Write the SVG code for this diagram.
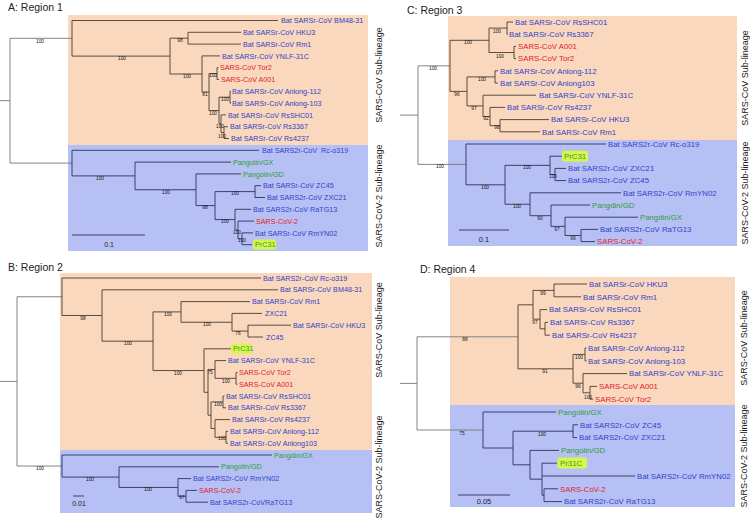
<svg xmlns="http://www.w3.org/2000/svg" width="750" height="523" viewBox="0 0 750 523">
<style>
text{font-family:"Liberation Sans",Arial,sans-serif}
.ttl{font-size:10.5px;fill:#222}
.s{font-size:7.2px}
.m{font-size:7.8px}
.b{fill:#3142c8}
.r{fill:#e3222a}
.g{fill:#2e9e36}
.k{fill:#222}
.bs{font-size:4.8px;fill:#111;text-anchor:middle}
.lab{font-size:9px;fill:#222;text-anchor:middle}
.orng{fill:#f9d8bd}
.blu{fill:#b7c0f4}
.hl{fill:#d8f54a}
.to{fill:none;stroke:#4a3d33;stroke-width:0.9}
.tb{fill:none;stroke:#2c3260;stroke-width:0.9}
.root{fill:none;stroke:#777;stroke-width:0.9}
.pre{white-space:pre}
</style>
<rect width="750" height="523" fill="#fff"/>

<g id="backgrounds">
<rect class="orng" x="68" y="15" width="300" height="130"/>
<rect class="blu" x="68" y="145" width="300" height="106"/>
<rect class="orng" x="60" y="273" width="312" height="177"/>
<rect class="blu" x="60" y="450" width="312" height="63"/>
<rect class="orng" x="448" y="16" width="289" height="124"/>
<rect class="blu" x="448" y="140" width="289" height="106"/>
<rect class="orng" x="450" y="277" width="285" height="128"/>
<rect class="blu" x="450" y="405" width="285" height="102"/>
</g>

<g id="titles">
<text class="ttl" x="8" y="11">A: Region 1</text>
<text class="ttl" x="8" y="271">B: Region 2</text>
<text class="ttl" x="407" y="14">C: Region 3</text>
<text class="ttl" x="420" y="273">D: Region 4</text>
</g>

<g id="side-labels">
<text class="lab" transform="translate(382,75) rotate(-90)">SARS-CoV Sub-lineage</text>
<text class="lab" transform="translate(382,196) rotate(-90)">SARS-CoV-2 Sub-lineage</text>
<text class="lab" transform="translate(382,330) rotate(-90)">SARS-CoV Sub-lineage</text>
<text class="lab" transform="translate(382,467) rotate(-90)">SARS-CoV-2 Sub-lineage</text>
<text class="lab" transform="translate(748,78) rotate(-90)">SARS-CoV Sub-lineage</text>
<text class="lab" transform="translate(748,193) rotate(-90)">SARS-CoV-2 Sub-lineage</text>
<text class="lab" transform="translate(747,338) rotate(-90)">SARS-CoV Sub-lineage</text>
<text class="lab" transform="translate(747,456) rotate(-90)">SARS-CoV-2 Sub-lineage</text>
</g>

<g id="connectors">
<path class="root" d="M0,100.7H10M10,38.3V163.1M10,38.3H72M10,163.1H72"/>
<path class="to" d="M72,20.5V56.1M72,20.5H278M72,56.1H170
M170,38.2V74M170,38.2H188M170,74H202
M188,32.3V44.1M188,32.3H241M188,44.1H241
M202,55.9V92M202,55.9H220M202,92H209
M209,73.6V110.5M209,73.6H217M209,110.5H219
M217,67.7V79.5M217,67.7H218.5M217,79.5H219
M219,97.2V123.75M219,97.2H230M219,123.75H221
M230,91.3V103.1M230,91.3H231M230,103.1H231
M221,114.9V132.6M221,114.9H226M221,132.6H224
M224,126.7V138.5M224,126.7H228M224,138.5H229"/>
<path class="tb" d="M72,150.3V175.9M72,150.3H259M72,175.9H135
M135,162.1V189.75M135,162.1H231M135,189.75H196
M196,173.9V205.6M196,173.9H241M196,205.6H215
M215,191.6V219.6M215,191.6H255M215,219.6H235
M255,185.7V197.5M255,185.7H261M255,197.5H265
M235,209.3V230M235,209.3H251M235,230H238
M238,221.1V238.8M238,221.1H254M238,238.8H242
M242,232.9V244.7M242,232.9H253M242,244.7H252
M72,235H145"/>

<path class="root" d="M0,381.4H17M17,296.75V466.05M17,296.75H62M17,466.05H62"/>
<path class="to" d="M62,278V315.5M62,278H261M62,315.5H102
M102,289.8V341.2M102,289.8H278M102,341.2H153
M153,311.9V370.55M153,311.9H181M153,370.55H204
M181,301.6V322.25M181,301.6H250M181,322.25H232
M232,313.4V331.1M232,313.4H262M232,331.1H248
M248,325.2V337M248,325.2H291M248,337H263
M204,348.8V392.3M204,348.8H231M204,392.3H208
M208,369.45V415.2M208,369.45H215M208,415.2H211
M215,360.6V378.3M215,360.6H226M215,378.3H236
M236,372.4V384.2M236,372.4H237.5M236,384.2H237.5
M211,401.9V428.45M211,401.9H223M211,428.45H215
M223,396V407.8M223,396H224.5M223,407.8H226
M215,419.6V437.3M215,419.6H230M215,437.3H226
M226,431.4V443.2M226,431.4H228M226,443.2H228"/>
<path class="tb" d="M62,455V477.1M62,455H272M62,477.1H119
M119,466.8V487.45M119,466.8H219M119,487.45H178
M178,478.6V496.3M178,478.6H191M178,496.3H186
M186,490.4V502.2M186,490.4H197M186,502.2H208
M73,496H84"/>

<path class="root" d="M400,115.1H418M418,65.85V164.4M418,65.85H450M418,164.4H466"/>
<path class="to" d="M450,40.3V91.4M450,40.3H489M450,91.4H467
M489,28.1V52.5M489,28.1H507M489,52.5H514
M507,22V34.2M507,22H513M507,34.2H508
M514,46.4V58.6M514,46.4H516M514,58.6H516
M467,76.9V105.9M467,76.9H495M467,105.9H483
M495,70.8V83M495,70.8H498M495,83H498
M483,95.2V116.55M483,95.2H536M483,116.55H490
M490,107.4V125.7M490,107.4H505M490,125.7H500
M500,119.6V131.8M500,119.6H549M500,131.8H540"/>
<path class="tb" d="M466,144V184.8M466,144H606M466,184.8H505
M505,165.35V204.25M505,165.35H550M505,204.25H530
M550,156.2V174.5M550,156.2H562M550,174.5H555
M555,168.4V180.6M555,168.4H566M555,180.6H566
M530,192.8V215.7M530,192.8H621M530,215.7H551
M551,205V226.35M551,205H590M551,226.35H565
M565,217.2V235.5M565,217.2H638M565,235.5H581
M581,229.4V241.6M581,229.4H598M581,241.6H595
M459,230H509"/>

<path class="root" d="M400,383.4H417M417,336.8V430M417,336.8H518M417,430H483"/>
<path class="to" d="M518,304.8V368.8M518,304.8H533M518,368.8H573
M533,290.4V319.2M533,290.4H554M533,319.2H540
M554,284V296.8M554,284H587M554,296.8H581
M540,309.6V328.8M540,309.6H547M540,328.8H545
M545,322.4V335.2M545,322.4H548M545,335.2H550
M573,354.4V383.2M573,354.4H585M573,383.2H583
M585,348V360.8M585,348H586.5M585,360.8H586.5
M583,373.6V392.8M583,373.6H627M583,392.8H590
M590,386.4V399.2M590,386.4H597M590,399.2H593"/>
<path class="tb" d="M483,412V448M483,412H556M483,448H513
M513,431.2V464.8M513,431.2H573M513,464.8H530
M573,424.8V437.6M573,424.8H578M573,437.6H577
M530,450.4V479.2M530,450.4H559M530,479.2H542
M542,463.2V495.2M542,463.2H557M542,476H635M542,495.2H544
M544,488.8V501.6M544,488.8H558M544,501.6H562
M458,495H510"/>
</g>

<g id="scales">
<text class="k" style="font-size:7px" x="109" y="247" text-anchor="middle">0.1</text>
<text class="k" style="font-size:7px" x="79" y="506" text-anchor="middle">0.01</text>
<text class="k" style="font-size:7.5px" x="484" y="242" text-anchor="middle">0.1</text>
<text class="k" style="font-size:7.5px" x="484" y="504" text-anchor="middle">0.05</text>
</g>

<g id="bootstrap">
<text class="bs" x="40" y="43">100</text>
<text class="bs" x="122" y="60">100</text>
<text class="bs" x="180" y="41.5">98</text>
<text class="bs" x="187" y="78">100</text>
<text class="bs" x="213" y="77">100</text>
<text class="bs" x="205" y="96">81</text>
<text class="bs" x="213" y="114.5">100</text>
<text class="bs" x="225" y="100.5">100</text>
<text class="bs" x="220" y="128">100</text>
<text class="bs" x="222" y="137.5">100</text>
<text class="bs" x="100" y="180">100</text>
<text class="bs" x="166" y="193.5">100</text>
<text class="bs" x="235" y="195">100</text>
<text class="bs" x="205" y="209">98</text>
<text class="bs" x="225" y="223">100</text>
<text class="bs" x="237" y="233.5">100</text>
<text class="bs" x="242" y="242">100</text>

<text class="bs" x="83" y="319.5">98</text>
<text class="bs" x="128" y="345">100</text>
<text class="bs" x="168" y="315.5">100</text>
<text class="bs" x="207" y="326">100</text>
<text class="bs" x="238" y="335">76</text>
<text class="bs" x="178" y="374.5">100</text>
<text class="bs" x="210" y="374">75</text>
<text class="bs" x="226" y="382.5">100</text>
<text class="bs" x="218" y="406">100</text>
<text class="bs" x="222" y="440">100</text>
<text class="bs" x="40" y="470">100</text>
<text class="bs" x="90" y="481">100</text>
<text class="bs" x="148" y="491">100</text>
<text class="bs" x="182" y="499">97</text>

<text class="bs" x="433" y="69.5">100</text>
<text class="bs" x="468" y="44">100</text>
<text class="bs" x="497" y="33">100</text>
<text class="bs" x="500" y="58">100</text>
<text class="bs" x="457" y="95.5">96</text>
<text class="bs" x="482" y="81">100</text>
<text class="bs" x="474" y="110">97</text>
<text class="bs" x="486" y="120">92</text>
<text class="bs" x="497" y="129">98</text>
<text class="bs" x="440" y="168">100</text>
<text class="bs" x="485" y="188.5">100</text>
<text class="bs" x="527" y="169">100</text>
<text class="bs" x="553" y="178">100</text>
<text class="bs" x="517" y="208">100</text>
<text class="bs" x="540" y="219.5">90</text>
<text class="bs" x="557" y="231">97</text>
<text class="bs" x="573" y="239.5">99</text>

<text class="bs" x="465" y="341">88</text>
<text class="bs" x="543" y="295">99</text>
<text class="bs" x="535" y="324">97</text>
<text class="bs" x="545" y="373">91</text>
<text class="bs" x="579" y="358.5">100</text>
<text class="bs" x="578" y="388">96</text>
<text class="bs" x="588" y="398.5">100</text>
<text class="bs" x="462" y="434.5">75</text>
<text class="bs" x="542" y="436">100</text>
</g>

<g id="a-bm4831"><text class="s b" x="281" y="23.1">Bat SARSr-CoV BM48-31</text></g>
<g id="a-hku3"><text class="s b" x="243" y="34.9">Bat SARSr-CoV HKU3</text></g>
<g id="a-rm1"><text class="s b" x="243" y="46.7">Bat SARSr-CoV Rm1</text></g>
<g id="a-ynlf"><text class="s b" x="222" y="58.5">Bat SARSr-CoV YNLF-31C</text></g>
<g id="a-tor2"><text class="s r" x="220" y="70.3">SARS-CoV Tor2</text></g>
<g id="a-a001"><text class="s r" x="221" y="82.1">SARS-CoV A001</text></g>
<g id="a-anlong112"><text class="s b" x="232" y="93.9">Bat SARSr-CoV Anlong-112</text></g>
<g id="a-anlong103"><text class="s b" x="232" y="105.7">Bat SARSr-CoV Anlong-103</text></g>
<g id="a-rsshc01"><text class="s b" x="228" y="117.5">Bat SARSr-CoV RsSHC01</text></g>
<g id="a-rs3367"><text class="s b" x="230" y="129.3">Bat SARSr-CoV Rs3367</text></g>
<g id="a-rs4237"><text class="s b" x="231" y="141.1">Bat SARSr-CoV Rs4237</text></g>
<g id="a-rco319"><text class="s b pre" x="262" y="152.9">Bat SARS2r-CoV  Rc-o319</text></g>
<g id="a-gx"><text class="s g" x="233" y="164.7">Pangolin/GX</text></g>
<g id="a-gd"><text class="s g" x="243" y="176.5">Pangolin/GD</text></g>
<g id="a-zc45"><text class="s b" x="263" y="188.3">Bat SARSr-CoV ZC45</text></g>
<g id="a-zxc21"><text class="s b" x="267" y="200.1">Bat SARS2r-CoV ZXC21</text></g>
<g id="a-ratg13"><text class="s b" x="253" y="211.9">Bat SARS2r-CoV RaTG13</text></g>
<g id="a-sars2"><text class="s r" x="256" y="223.7">SARS-CoV-2</text></g>
<g id="a-rmyn02"><text class="s b" x="255" y="235.5">Bat SARSr-CoV RmYN02</text></g>
<g id="a-prc31"><rect class="hl" x="253" y="239.6" width="23" height="10" rx="2"/><text class="s g" x="255" y="247.3">PrC31</text></g>

<g id="b-rco319"><text class="s b" x="263" y="280.6">Bat SARS2r-CoV Rc-o319</text></g>
<g id="b-bm4831"><text class="s b" x="280" y="292.4">Bat SARSr-CoV BM48-31</text></g>
<g id="b-rm1"><text class="s b" x="252" y="304.2">Bat SARSr-CoV Rm1</text></g>
<g id="b-zxc21"><text class="s b" x="265" y="316">ZXC21</text></g>
<g id="b-hku3"><text class="s b" x="293" y="327.8">Bat SARSr-CoV HKU3</text></g>
<g id="b-zc45"><text class="s b" x="266" y="339.6">ZC45</text></g>
<g id="b-prc31"><rect class="hl" x="231" y="343.7" width="21" height="10" rx="2"/><text class="s g" x="233" y="351.4">PrC31</text></g>
<g id="b-ynlf"><text class="s b" x="228" y="363.2">Bat SARSr-CoV YNLF-31C</text></g>
<g id="b-tor2"><text class="s r" x="239" y="375">SARS-CoV Tor2</text></g>
<g id="b-a001"><text class="s r" x="239" y="386.8">SARS-CoV A001</text></g>
<g id="b-rsshc01"><text class="s b" x="226" y="398.6">Bat SARSr-CoV RsSHC01</text></g>
<g id="b-rs3367"><text class="s b" x="228" y="410.4">Bat SARSr-CoV Rs3367</text></g>
<g id="b-rs4237"><text class="s b" x="232" y="422.2">Bat SARSr-CoV Rs4237</text></g>
<g id="b-anlong112"><text class="s b" x="230" y="434">Bat SARSr-CoV Anlong-112</text></g>
<g id="b-anlong103"><text class="s b" x="230" y="445.8">Bat SARSr-CoV Anlong103</text></g>
<g id="b-gx"><text class="s g" x="274" y="457.6">Pangdin/GX</text></g>
<g id="b-gd"><text class="s g" x="221" y="469.4">Pangolin/GD</text></g>
<g id="b-rmyn02"><text class="s b" x="193" y="481.2">Bat SARS2r-CoV RmYN02</text></g>
<g id="b-sars2"><text class="s r" x="199" y="493">SARS-CoV-2</text></g>
<g id="b-ratg13"><text class="s b" x="210" y="504.8">Bat SARS2r-CoVRaTG13</text></g>

<g id="c-rsshc01"><text class="m b" x="515" y="24.8">Bat SARSr-CoV RsSHC01</text></g>
<g id="c-rs3367"><text class="m b" x="509" y="37">Bat SARSr-CoV Rs3367</text></g>
<g id="c-a001"><text class="m r" x="518" y="49.2">SARS-CoV A001</text></g>
<g id="c-tor2"><text class="m r" x="518" y="61.4">SARS-CoV Tor2</text></g>
<g id="c-anlong112"><text class="m b" x="500" y="73.6">Bat SARSr-CoV Anlong-112</text></g>
<g id="c-anlong103"><text class="m b" x="500" y="85.8">Bat SARSr-CoV Anlong103</text></g>
<g id="c-ynlf"><text class="m b" x="539" y="98">Bat SARSr-CoV YNLF-31C</text></g>
<g id="c-rs4237"><text class="m b" x="507" y="110.2">Bat SARSr-CoV Rs4237</text></g>
<g id="c-hku3"><text class="m b" x="551" y="122.4">Bat SARSr-CoV HKU3</text></g>
<g id="c-rm1"><text class="m b" x="542" y="134.6">Bat SARSr-CoV Rm1</text></g>
<g id="c-rco319"><text class="m b" x="608" y="146.8">Bat SARS2r-CoV Rc-o319</text></g>
<g id="c-prc31"><rect class="hl" x="562" y="150.8" width="26" height="10.8" rx="2"/><text class="m g" x="564" y="159">PrC31</text></g>
<g id="c-zxc21"><text class="m b" x="568" y="171.2">Bat SARS2r-CoV ZXC21</text></g>
<g id="c-zc45"><text class="m b" x="568" y="183.4">Bat SARS2r-CoV ZC45</text></g>
<g id="c-rmyn02"><text class="m b" x="623" y="195.6">Bat SARS2r-CoV RmYN02</text></g>
<g id="c-gd"><text class="m g" x="592" y="207.8">Pangdin/GD</text></g>
<g id="c-gx"><text class="m g" x="640" y="220">Pangdin/GX</text></g>
<g id="c-ratg13"><text class="m b" x="600" y="232.2">Bat SARS2r-CoV RaTG13</text></g>
<g id="c-sars2"><text class="m r" x="597" y="244.4">SARS-CoV-2</text></g>

<g id="d-hku3"><text class="m b" x="589" y="286.8">Bat SARSr-CoV HKU3</text></g>
<g id="d-rm1"><text class="m b" x="583" y="299.6">Bat SARSr-CoV Rm1</text></g>
<g id="d-rsshc01"><text class="m b" x="549" y="312.4">Bat SARSr-CoV RsSHC01</text></g>
<g id="d-rs3367"><text class="m b" x="550" y="325.2">Bat SARSr-CoV Rs3367</text></g>
<g id="d-rs4237"><text class="m b" x="552" y="338">Bat SARSr-CoV Rs4237</text></g>
<g id="d-anlong112"><text class="m b" x="588" y="350.8">Bat SARSr-CoV Anlong-112</text></g>
<g id="d-anlong103"><text class="m b" x="588" y="363.6">Bat SARSr-CoV Anlong-103</text></g>
<g id="d-ynlf"><text class="m b" x="629" y="376.4">Bat SARSr-CoV YNLF-31C</text></g>
<g id="d-a001"><text class="m r" x="599" y="389.2">SARS-CoV A001</text></g>
<g id="d-tor2"><text class="m r" x="595" y="402">SARS-CoV Tor2</text></g>
<g id="d-gx"><text class="m g" x="558" y="414.8">Pangolin/GX</text></g>
<g id="d-zc45"><text class="m b" x="580" y="427.6">Bat SARS2r-CoV ZC45</text></g>
<g id="d-zxc21"><text class="m b" x="579" y="440.4">Bat SARS2r-CoV ZXC21</text></g>
<g id="d-gd"><text class="m g" x="561" y="453.2">Pangolin/GD</text></g>
<g id="d-pr31c"><rect class="hl" x="557.5" y="457.6" width="29.5" height="11" rx="2"/><text class="m g" x="560" y="466">Pr31C</text></g>
<g id="d-rmyn02"><text class="m b" x="637" y="478.8">Bat SARS2r-CoV RmYN02</text></g>
<g id="d-sars2"><text class="m r" x="560" y="491.6">SARS-CoV-2</text></g>
<g id="d-ratg13"><text class="m b" x="564" y="504.4">Bat SARS2r-CoV RaTG13</text></g>
</svg>
